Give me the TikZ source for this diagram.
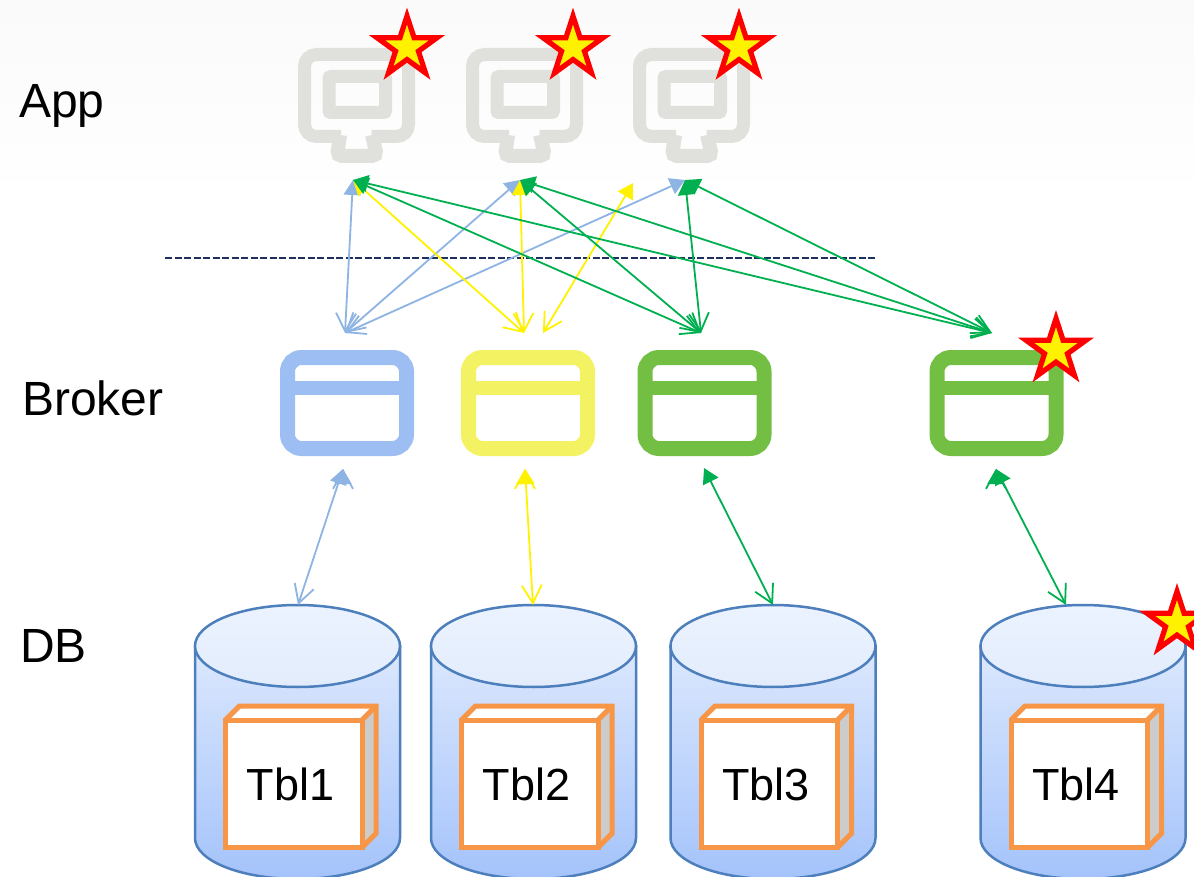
\documentclass[tikz,border=0pt]{standalone}
\usepackage{fontspec}
\setmainfont{Liberation Sans}
\usepackage{tikz}
\usetikzlibrary{arrows.meta,shapes.geometric}

\definecolor{iconGray}{HTML}{E0E0DC}
\definecolor{brokerBlue}{HTML}{9DBEF3}
\definecolor{brokerYellow}{HTML}{F2F263}
\definecolor{brokerGreen}{HTML}{72BF44}
\definecolor{linkBlue}{HTML}{8EB4E3}
\definecolor{linkGreen}{HTML}{00B050}
\definecolor{dashNavy}{HTML}{1F2F5F}
\definecolor{dbEdge}{HTML}{4D7FBC}
\definecolor{dbTop}{HTML}{DCE8FD}
\definecolor{dbBottom}{HTML}{A4C3FB}
\definecolor{lidTop}{HTML}{ECF3FF}
\definecolor{lidBottom}{HTML}{E2ECFC}
\definecolor{tblEdge}{HTML}{F79646}

\tikzset{
	tier/.style={inner sep=0pt,anchor=base west,font=\fontsize{48}{52}\selectfont},
	badge/.style={star,star points=5,star point ratio=2.618,minimum size=63pt,inner sep=0pt,
		draw=red,fill=yellow,line width=5.2pt},
	link/.style={{Triangle[length=15pt,width=17pt]}-{Straight Barb[length=18pt,width=20pt]},line width=1.8pt},
	appicon/.pic={
		\draw[iconGray,line width=13pt,rounded corners=12pt]
			(-16,-31.5) -- (-52.5,-31.5) -- (-52.5,50.5) -- (51.5,50.5) -- (51.5,-31.5) -- (14.5,-31.5);
		\draw[iconGray,line width=14pt,rounded corners=5pt]
			(-17,-30) -- (-20,-51) -- (20,-51) -- (15,-30);
		\draw[iconGray,line width=13pt,rounded corners=2pt] (-28,28.5) rectangle (28.5,-7.5);
	},
	brokericon/.pic={
		\draw[#1,line width=15pt,rounded corners=14pt] (-59.5,45.5) rectangle (59.5,-45.5);
		\draw[#1,line width=14pt] (-59.5,15.5) -- (59.5,15.5);
	},
	dbicon/.pic={
		\path[draw=dbEdge,line width=2.5pt,top color=dbTop,bottom color=dbBottom]
			(-102.5,0) -- (-102.5,-192) arc[start angle=180,end angle=360,x radius=102.5,y radius=41] -- (102.5,0) -- cycle;
		\path[draw=dbEdge,line width=2.5pt,top color=lidTop,bottom color=lidBottom]
			(0,0) ellipse[x radius=102.5,y radius=41];
		\fill[white] (-72,-74) -- (-58,-60) -- (78.5,-60) -- (64.5,-74) -- cycle;
		\fill[black!20] (64.5,-74) -- (78.5,-60) -- (78.5,-187.5) -- (64.5,-201.5) -- cycle;
		\draw[tblEdge,line width=5pt,fill=white] (-72,-74) rectangle (64.5,-201.5);
		\draw[tblEdge,line width=5pt] (-72,-74) -- (-58,-60) -- (78.5,-60) -- (78.5,-187.5) -- (64.5,-201.5);
		\draw[tblEdge,line width=5pt] (78.5,-60) -- (64.5,-74);
		\node[inner sep=0pt,font=\fontsize{45}{50}\selectfont,anchor=base] (-tbl) at (-7,-154.5) {#1};
	}
}

\begin{document}
\begin{tikzpicture}[x=1pt,y=1pt]
\clip (0,0) rectangle (1194,-877);
\fill[white] (0,0) rectangle (1194,-877);
\shade[top color=black!2,bottom color=white] (0,0) rectangle (1194,-200);

% tiers
\node[tier](appLabel) at (19,-118){App};
\node[tier](brokerLabel) at (22,-415){Broker};
\node[tier](dbLabel) at (20,-662){DB};

\pic (a_1) at (357,-105) {appicon};
\pic (a_2) at (525,-105) {appicon};
\pic (a_3) at (692,-105) {appicon};

\pic (b_1) at (347,-403) {brokericon=brokerBlue};
\pic (b_2) at (528,-403) {brokericon=brokerYellow};
\pic (b_3) at (704.5,-403) {brokericon=brokerGreen};
\pic (b_4) at (996.5,-403) {brokericon=brokerGreen};

\pic (d_1) at (297.5,-646) {dbicon=Tbl1};
\pic (d_2) at (533.5,-646) {dbicon=Tbl2};
\pic (d_3) at (773,-646) {dbicon=Tbl3};
\pic (d_4) at (1083,-646) {dbicon=Tbl4};

% link ends
\coordinate (a_1p) at (353,-180);
\coordinate (a_2p) at (520,-180);
\coordinate (a_3p) at (685,-180);
\coordinate (a_free) at (633,-183);
\coordinate (b_1t) at (345,-333);
\coordinate (b_2t) at (524,-333);
\coordinate (b_2s) at (543,-333);
\coordinate (b_3t) at (701,-333);
\coordinate (b_4t) at (992,-333);
\coordinate (b_1u) at (343,-469);
\coordinate (b_2u) at (525,-469);
\coordinate (b_3u) at (704,-468);
\coordinate (b_4u) at (996,-469);
\coordinate (d_1t) at (298,-605);
\coordinate (d_2t) at (533,-605);
\coordinate (d_3t) at (773,-605);
\coordinate (d_4t) at (1066,-605);
\coordinate (cutL) at (165,-258);
\coordinate (cutR) at (875,-258);

\draw[dashNavy,line width=1.5pt,dash pattern=on 7pt off 2.5pt] (cutL) -- (cutR);

\path[link,draw=linkBlue,fill=linkBlue]
	(a_1p) edge (b_1t)
	(a_2p) edge (b_1t)
	(a_3p) edge (b_1t)
	(b_1u) edge (d_1t);
\path[link,draw=yellow,fill=yellow]
	(a_1p) edge (b_2t)
	(a_2p) edge (b_2t)
	(a_free) edge (b_2s)
	(b_2u) edge (d_2t);
\path[link,draw=linkGreen,fill=linkGreen]
	(a_1p) edge (b_3t)
	(a_2p) edge (b_3t)
	(a_3p) edge (b_3t)
	(a_1p) edge (b_4t)
	(a_2p) edge (b_4t)
	(a_3p) edge (b_4t)
	(b_3u) edge (d_3t)
	(b_4u) edge (d_4t);

\node[badge](s_1) at (407,-47.5){};
\node[badge](s_2) at (573,-47.5){};
\node[badge](s_3) at (739,-47.5){};
\node[badge](s_4) at (1056,-350){};
\node[badge](s_5) at (1177,-623){};
\end{tikzpicture}
\end{document}
